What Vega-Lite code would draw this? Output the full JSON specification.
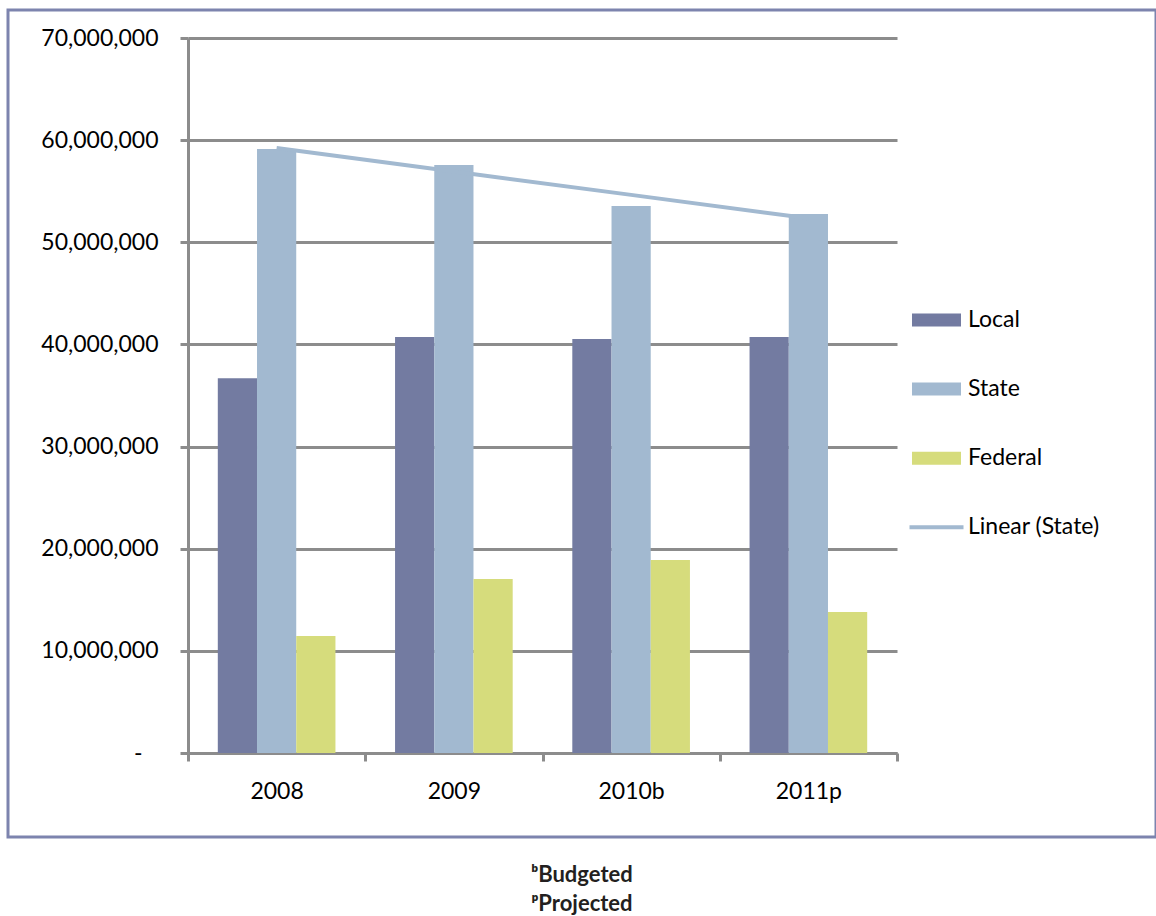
{
  "$schema": "https://vega.github.io/schema/vega-lite/v6.json",
  "width": 1148,
  "height": 827,
  "autosize": {"type": "none"},
  "padding": {"left": 8, "top": 10, "right": 0, "bottom": 79},
  "background": "white",
  "datasets": {
    "bars": [
      {"year": "2008", "series": "Local", "value": 36700000},
      {"year": "2008", "series": "State", "value": 59130000},
      {"year": "2008", "series": "Federal", "value": 11450000},
      {"year": "2009", "series": "Local", "value": 40730000},
      {"year": "2009", "series": "State", "value": 57570000},
      {"year": "2009", "series": "Federal", "value": 17040000},
      {"year": "2010b", "series": "Local", "value": 40530000},
      {"year": "2010b", "series": "State", "value": 53550000},
      {"year": "2010b", "series": "Federal", "value": 18900000},
      {"year": "2011p", "series": "Local", "value": 40730000},
      {"year": "2011p", "series": "State", "value": 52770000},
      {"year": "2011p", "series": "Federal", "value": 13800000}
    ],
    "trend": [
      {"year": "2008", "series": "State", "label": "Linear (State)", "value": 59230000},
      {"year": "2009", "series": "State", "label": "Linear (State)", "value": 56920000},
      {"year": "2010b", "series": "State", "label": "Linear (State)", "value": 54640000},
      {"year": "2011p", "series": "State", "label": "Linear (State)", "value": 52350000}
    ]
  },
  "title": {
    "text": "ᵇBudgeted",
    "subtitle": "ᵖProjected",
    "orient": "bottom",
    "anchor": "middle",
    "font": "Lato",
    "fontSize": 22,
    "fontWeight": "bold",
    "color": "#231f20",
    "subtitleFont": "Lato",
    "subtitleFontSize": 22,
    "subtitleFontWeight": "bold",
    "subtitleColor": "#231f20",
    "subtitlePadding": 7,
    "offset": 28
  },
  "encoding": {
    "x": {
      "field": "year",
      "type": "nominal",
      "sort": ["2008", "2009", "2010b", "2011p"],
      "scale": {"range": [180, 889], "paddingInner": 0, "paddingOuter": 0},
      "axis": {
        "title": null,
        "orient": "bottom",
        "offset": -84,
        "tickBand": "extent",
        "tickSize": 8,
        "tickWidth": 3,
        "tickColor": "#8c8c8c",
        "domainColor": "#8c8c8c",
        "domainWidth": 3,
        "grid": false,
        "labelAngle": 0,
        "labelFont": "Lato",
        "labelFontSize": 23,
        "labelColor": "black",
        "labelPadding": 19
      }
    },
    "y": {
      "field": "value",
      "type": "quantitative",
      "scale": {"domain": [0, 70000000], "range": [743, 28], "nice": false, "zero": true},
      "axis": {
        "title": null,
        "orient": "left",
        "offset": -180,
        "values": [0, 10000000, 20000000, 30000000, 40000000, 50000000, 60000000, 70000000],
        "labelExpr": "datum.value === 0 ? '-' : format(datum.value, ',')",
        "tickSize": 8,
        "tickWidth": 3,
        "tickColor": "#8c8c8c",
        "domainColor": "#8c8c8c",
        "domainWidth": 3,
        "grid": true,
        "gridColor": "#8c8c8c",
        "gridWidth": 3,
        "labelFont": "Lato",
        "labelFontSize": 23,
        "labelColor": "black",
        "labelPadding": {"condition": {"test": "datum.value === 0", "value": 38}, "value": 22}
      }
    }
  },
  "layer": [
    {
      "data": {"name": "bars"},
      "mark": {"type": "bar"},
      "encoding": {
        "xOffset": {
          "field": "series",
          "type": "nominal",
          "sort": ["Local", "State", "Federal"],
          "scale": {"paddingInner": 0, "paddingOuter": 0.76}
        },
        "color": {
          "field": "series",
          "type": "nominal",
          "scale": {
            "domain": ["Local", "State", "Federal", "Linear (State)"],
            "range": ["#737ba1", "#a2b9d0", "#d6dc7c", "#a2b9d0"]
          },
          "legend": {
            "title": null,
            "orient": "none",
            "legendX": 904,
            "legendY": 285.5,
            "padding": 0,
            "symbolSize": 2025,
            "symbolStrokeWidth": 4,
            "rowPadding": 32.1,
            "labelOffset": 7,
            "labelFont": "Lato",
            "labelFontSize": 23,
            "labelColor": "black",
            "labelLimit": 300,
            "encode": {
              "symbols": {
                "update": {
                  "shape": {"signal": "datum.value === 'Linear (State)' ? 'M-1.2,0H1.2' : 'M-1,-0.2H1V0.2H-1Z'"},
                  "fill": {"signal": "datum.value === 'Linear (State)' ? 'transparent' : scale('color', datum.value)"},
                  "stroke": {"signal": "scale('color', datum.value)"},
                  "strokeWidth": {"value": 4},
                  "opacity": {"value": 1}
                }
              }
            }
          }
        }
      }
    },
    {
      "data": {"name": "trend"},
      "mark": {"type": "line", "strokeWidth": 4},
      "encoding": {
        "xOffset": {
          "field": "series",
          "type": "nominal",
          "sort": ["Local", "State", "Federal"],
          "scale": {"paddingInner": 0, "paddingOuter": 0.76}
        },
        "color": {
          "field": "label",
          "type": "nominal",
          "scale": {
            "domain": ["Local", "State", "Federal", "Linear (State)"],
            "range": ["#737ba1", "#a2b9d0", "#d6dc7c", "#a2b9d0"]
          },
          "legend": {
            "title": null,
            "orient": "none",
            "legendX": 904,
            "legendY": 285.5,
            "padding": 0,
            "symbolSize": 2025,
            "symbolStrokeWidth": 4,
            "rowPadding": 32.1,
            "labelOffset": 7,
            "labelFont": "Lato",
            "labelFontSize": 23,
            "labelColor": "black",
            "labelLimit": 300,
            "encode": {
              "symbols": {
                "update": {
                  "shape": {"signal": "datum.value === 'Linear (State)' ? 'M-1.2,0H1.2' : 'M-1,-0.2H1V0.2H-1Z'"},
                  "fill": {"signal": "datum.value === 'Linear (State)' ? 'transparent' : scale('color', datum.value)"},
                  "stroke": {"signal": "scale('color', datum.value)"},
                  "strokeWidth": {"value": 4},
                  "opacity": {"value": 1}
                }
              }
            }
          }
        }
      }
    }
  ],
  "config": {
    "view": {"stroke": "#7d84ae", "strokeWidth": 3},
    "font": "Lato"
  }
}
